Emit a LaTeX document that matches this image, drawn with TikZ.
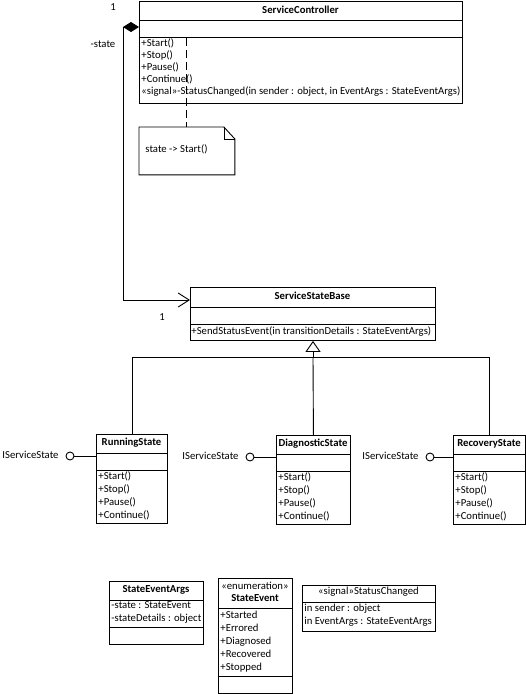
\documentclass[tikz,border=0pt]{standalone}
\usepackage{fontspec}
\setmainfont{Carlito}
\usetikzlibrary{arrows.meta}
\begin{document}
\begin{tikzpicture}[x=1pt,y=-1pt,line width=0.9pt,
  box/.style={draw, inner sep=0, anchor=north west},
  txt/.style={inner sep=0, anchor=west, font=\fontsize{10.7}{12}\selectfont, text height=7.5pt, text depth=2pt},
  ttl/.style={txt, anchor=center, font=\fontsize{10.7}{12}\selectfont\bfseries},
  ctr/.style={txt, anchor=center},
  lolli/.style={draw, circle, minimum size=8pt, inner sep=0, line width=0.9pt}]
\useasboundingbox (0,0) rectangle (526,694);

% ServiceController
\node[box, minimum width=323pt, minimum height=102pt] (sc) at (139,1) {};
\draw (139,20) -- (462,20);
\draw (139,37) -- (462,37);
\node[ttl] (sct) at (300.5,11) {ServiceController};
\node[txt] (sc1) at (141,44) {+Start()};
\node[txt] (sc2) at (141,56) {+Stop()};
\node[txt] (sc3) at (141,68) {+Pause()};
\node[txt] (sc4) at (141,80) {+Continue()};
\node[txt] (sc5) at (141,92) {«signal»-StatusChanged(in sender : object, in EventArgs : StateEventArgs)};

% note
\node[inner sep=0, anchor=north west, minimum width=95pt, minimum height=47pt] (note) at (139,127) {};
\draw (note.north west) -- ([xshift=-11pt]note.north east) -- ([yshift=-12pt]note.north east) -- (note.south east) -- (note.south west) -- cycle;
\draw[line width=0.7pt] ([xshift=-11pt]note.north east) -- ([xshift=-11pt,yshift=-12pt]note.north east) -- ([yshift=-12pt]note.north east);
\node[txt] (notet) at (145,150) {state -> Start()};
\coordinate (dtop) at (186,38);
\draw[dash pattern=on 8pt off 4pt] (dtop) -- (dtop |- note.north);

% ServiceStateBase
\node[box, minimum width=245pt, minimum height=53pt] (ssb) at (190,287) {};
\draw (190,307) -- (435,307);
\draw (190,324) -- (435,324);
\node[ttl] (ssbt) at (312.5,297) {ServiceStateBase};
\node[txt] (ssb1) at (191,332) {+SendStatusEvent(in transitionDetails : StateEventArgs)};

% composition
\coordinate (scport) at (139,27);
\coordinate (ssbport) at (190,300);
\draw[{Diamond[length=16pt,width=10pt]}-{Straight Barb[length=11pt,width=14pt,line width=0.9pt]}] (scport) -- (123,27) |- (ssbport);
\node[ctr] (m1) at (113,8) {1};
\node[ctr] (role) at (103,45) {-state};
\node[ctr] (m2) at (162,318) {1};

% subclasses
\node[box, minimum width=71pt, minimum height=89pt] (rs) at (96,434) {};
\draw (96,453) -- (167,453);
\draw (96,470) -- (167,470);
\node[ttl] (rst) at (131.5,443) {RunningState};
\node[txt] (rs1) at (98,477) {+Start()};
\node[txt] (rs2) at (98,490) {+Stop()};
\node[txt] (rs3) at (98,503) {+Pause()};
\node[txt] (rs4) at (98,516) {+Continue()};

\node[box, minimum width=74pt, minimum height=89pt] (ds) at (276,435) {};
\draw (276,454) -- (350,454);
\draw (276,471) -- (350,471);
\node[ttl] (dst) at (313,444) {DiagnosticState};
\node[txt] (ds1) at (278,478) {+Start()};
\node[txt] (ds2) at (278,491) {+Stop()};
\node[txt] (ds3) at (278,504) {+Pause()};
\node[txt] (ds4) at (278,517) {+Continue()};

\node[box, minimum width=72pt, minimum height=89pt] (rc) at (453,435) {};
\draw (453,454) -- (525,454);
\draw (453,471) -- (525,471);
\node[ttl] (rct) at (489,444) {RecoveryState};
\node[txt] (rc1) at (455,478) {+Start()};
\node[txt] (rc2) at (455,491) {+Stop()};
\node[txt] (rc3) at (455,504) {+Pause()};
\node[txt] (rc4) at (455,517) {+Continue()};

% generalization
\coordinate (gen) at (313,357);
\draw[-{Triangle[open,length=11pt,width=15pt,line width=0.9pt]}] (gen) -- (gen |- ssb.south);
\draw (rs.north |- gen) -- (rc.north |- gen);
\draw (rs.north |- gen) -- (rs.north);
\draw (gen) -- (ds.north);
\draw (rc.north |- gen) -- (rc.north);

% lollipops
\node[lolli] (l1) at (70,456) {};
\draw (l1.east) -- (l1.east -| rs.west);
\node[txt] (i1) at (2,456) {IServiceState};
\node[lolli] (l2) at (250,457) {};
\draw (l2.east) -- (l2.east -| ds.west);
\node[txt] (i2) at (182,457) {IServiceState};
\node[lolli] (l3) at (430,457) {};
\draw (l3.east) -- (l3.east -| rc.west);
\node[txt] (i3) at (362,457) {IServiceState};

% StateEventArgs
\node[box, minimum width=94pt, minimum height=63pt] (sea) at (109,581) {};
\draw (109,600) -- (203,600);
\draw (109,627) -- (203,627);
\node[ttl] (seat) at (156,590) {StateEventArgs};
\node[txt] (sea1) at (111,606) {-state : StateEvent};
\node[txt] (sea2) at (111,619) {-stateDetails : object};

% StateEvent
\node[box, minimum width=74pt, minimum height=115pt] (se) at (218,578) {};
\draw (218,608) -- (292,608);
\draw (218,676) -- (292,676);
\node[ctr] (sest) at (255,587) {«enumeration»};
\node[ttl] (set) at (255,599) {StateEvent};
\node[txt] (se1) at (220,616) {+Started};
\node[txt] (se2) at (220,629) {+Errored};
\node[txt] (se3) at (220,642) {+Diagnosed};
\node[txt] (se4) at (220,655) {+Recovered};
\node[txt] (se5) at (220,668) {+Stopped};

% StatusChanged signal
\node[box, minimum width=133pt, minimum height=46pt] (sg) at (302,585) {};
\draw (302,602) -- (435,602);
\node[ctr] (sgt) at (368.5,592) {«signal»StatusChanged};
\node[txt] (sg1) at (304,609) {in sender : object};
\node[txt] (sg2) at (304,622) {in EventArgs : StateEventArgs};
\end{tikzpicture}
\end{document}
